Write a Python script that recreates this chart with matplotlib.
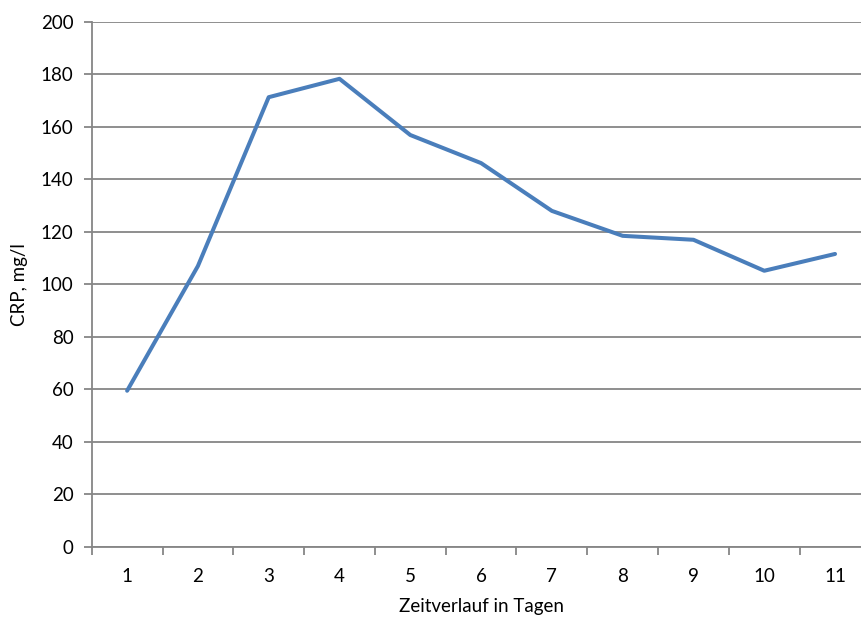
import numpy as np
import matplotlib
matplotlib.use('Agg')
import matplotlib.pyplot as plt

# Daten: CRP-Verlauf über 11 Tage
tage = [1, 2, 3, 4, 5, 6, 7, 8, 9, 10, 11]
crp = [59.4, 106.9, 171.2, 178.2, 156.8, 146.1, 127.9, 118.4, 116.9, 105.1, 111.5]
y_ticks = [0, 20, 40, 60, 80, 100, 120, 140, 160, 180, 200]

plt.rcParams['font.family'] = ['Lato', 'DejaVu Sans']

fig = plt.figure(figsize=(8.62, 6.2), dpi=100)
# Achsenbereich ragt rechts leicht über den Bildrand hinaus (wie im Original)
ax = fig.add_axes([0.1064, 0.1182, 0.9034, 0.847])

grau = '#868686'
ax.plot(tage, crp, color='#4A7EBB', linewidth=2.9, solid_capstyle='round', zorder=3)

ax.set_xlim(0.5, 11.5)
ax.set_ylim(0, 200)
ax.set_yticks(y_ticks)
ax.set_xticks(tage)
ax.set_xticks(np.arange(0.5, 12, 1), minor=True)
ax.grid(axis='y', color=grau, linewidth=1.3)
ax.set_axisbelow(True)

for s in ['top', 'right']:
    ax.spines[s].set_visible(False)
for s in ['left', 'bottom']:
    ax.spines[s].set_color(grau)
    ax.spines[s].set_linewidth(1.3)

ax.tick_params(axis='y', length=6, width=1.3, color=grau, pad=7, labelsize=13.5)
ax.tick_params(axis='x', which='major', length=0, pad=15, labelsize=13.5)
ax.tick_params(axis='x', which='minor', length=6, width=1.3, color=grau)

ax.set_xlabel('Zeitverlauf in Tagen', fontsize=13.5, labelpad=10)
ax.set_ylabel('CRP, mg/l', fontsize=13.5, labelpad=9)

fig.savefig('out.png', dpi=100)
